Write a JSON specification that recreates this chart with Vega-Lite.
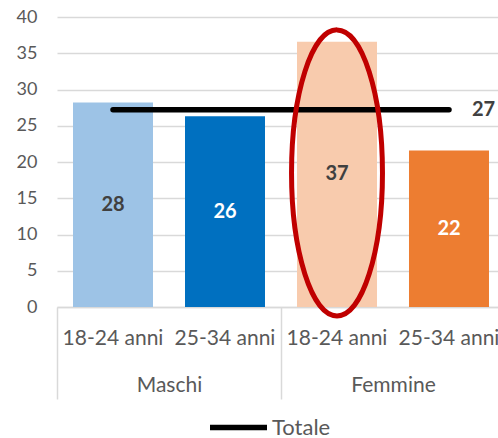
{
  "$schema": "https://vega.github.io/schema/vega-lite/v6.json",
  "width": 441,
  "height": 290,
  "autosize": "none",
  "padding": {"left": 57, "top": 17, "right": 0, "bottom": 131},
  "background": "white",
  "config": {
    "view": {"stroke": null},
    "font": "Lato",
    "axis": {"labelFont": "Lato"},
    "legend": {"labelFont": "Lato"}
  },
  "datasets": {
    "barre": [
      {"categoria": "Maschi|18-24 anni", "gruppo": "Maschi", "eta": "18-24 anni", "valore": 28.2, "totale": 27.2},
      {"categoria": "Maschi|25-34 anni", "gruppo": "Maschi", "eta": "25-34 anni", "valore": 26.3, "totale": 27.2},
      {"categoria": "Femmine|18-24 anni", "gruppo": "Femmine", "eta": "18-24 anni", "valore": 36.6, "totale": 27.2},
      {"categoria": "Femmine|25-34 anni", "gruppo": "Femmine", "eta": "25-34 anni", "valore": 21.6, "totale": 27.2}
    ]
  },
  "data": {"name": "barre"},
  "resolve": {"scale": {"x": "independent", "y": "independent", "color": "independent"}, "axis": {"x": "independent", "y": "independent"}},
  "layer": [
    {
      "mark": {"type": "bar"},
      "encoding": {
        "x": {
          "field": "categoria", "type": "nominal", "sort": null,
          "scale": {"domain": ["Maschi|18-24 anni", "Maschi|25-34 anni", "Femmine|18-24 anni", "Femmine|25-34 anni"], "range": [0, 448], "paddingInner": 0.2857, "paddingOuter": 0.1429},
          "axis": {"title": null, "orient": "bottom", "labelExpr": "split(datum.label, '|')[1]", "labelAngle": 0, "domainColor": "#D9D9D9", "domainWidth": 1.5, "ticks": false, "labelFontSize": 21, "labelColor": "#595959", "labelPadding": 20}
        },
        "y": {
          "field": "valore", "type": "quantitative",
          "scale": {"domain": [0, 40], "nice": false},
          "axis": {"title": null, "values": [0, 5, 10, 15, 20, 25, 30, 35, 40], "grid": true, "gridColor": "#D9D9D9", "gridWidth": 1.5, "domain": false, "ticks": false, "labelFontSize": 18, "labelColor": "#595959", "labelPadding": 20}
        },
        "color": {
          "field": "categoria", "type": "nominal",
          "scale": {"domain": ["Maschi|18-24 anni", "Maschi|25-34 anni", "Femmine|18-24 anni", "Femmine|25-34 anni"], "range": ["#9DC3E6", "#0070C0", "#F8CBAD", "#ED7D31"]},
          "legend": null
        }
      }
    },
    {
      "mark": {"type": "point", "opacity": 0},
      "encoding": {
        "x": {
          "field": "gruppo", "type": "nominal", "sort": null,
          "scale": {"domain": ["Maschi", "Femmine"], "range": [0, 448], "paddingInner": 0, "paddingOuter": 0},
          "axis": {"title": null, "orient": "bottom", "domain": false, "ticks": true, "tickBand": "extent", "tickSize": 92, "tickColor": "#D9D9D9", "tickWidth": 1.5, "labelAngle": 0, "labelFontSize": 21, "labelColor": "#595959", "labelPadding": -25}
        },
        "y": {"field": "valore", "type": "quantitative", "scale": {"domain": [0, 40], "nice": false}, "axis": null}
      }
    },
    {
      "mark": {"type": "text", "fontSize": 20, "fontWeight": "bold", "baseline": "middle"},
      "encoding": {
        "x": {
          "field": "categoria", "type": "nominal", "sort": null,
          "scale": {"domain": ["Maschi|18-24 anni", "Maschi|25-34 anni", "Femmine|18-24 anni", "Femmine|25-34 anni"], "range": [0, 448], "paddingInner": 0.2857, "paddingOuter": 0.1429},
          "axis": null
        },
        "y": {"field": "valore", "type": "quantitative", "scale": {"domain": [0, 80], "nice": false}, "axis": null},
        "text": {"field": "valore", "type": "quantitative", "format": ".0f"},
        "color": {"condition": {"test": "datum.eta === '18-24 anni'", "value": "#404040"}, "value": "#FFFFFF"}
      }
    },
    {
      "mark": {"type": "line", "strokeWidth": 5.5, "strokeCap": "round"},
      "encoding": {
        "x": {
          "field": "categoria", "type": "nominal", "sort": null,
          "scale": {"domain": ["Maschi|18-24 anni", "Maschi|25-34 anni", "Femmine|18-24 anni", "Femmine|25-34 anni"], "range": [0, 448], "paddingInner": 0.2857, "paddingOuter": 0.1429},
          "axis": null
        },
        "y": {"field": "totale", "type": "quantitative", "scale": {"domain": [0, 40], "nice": false}, "axis": null},
        "color": {
          "datum": "Totale",
          "scale": {"range": ["#000000"]},
          "legend": {"title": null, "orient": "none", "legendX": 150, "legendY": 379, "padding": 0, "symbolType": "stroke", "symbolStrokeWidth": 5.5, "symbolSize": 3249, "labelFontSize": 22, "labelColor": "#595959", "labelOffset": 2, "labelBaseline": "middle"}
        }
      }
    },
    {
      "transform": [{"filter": "datum.categoria === 'Femmine|25-34 anni'"}],
      "mark": {"type": "text", "fontSize": 20, "fontWeight": "bold", "align": "left", "baseline": "middle", "dx": 23, "color": "#404040"},
      "encoding": {
        "x": {
          "field": "categoria", "type": "nominal", "sort": null,
          "scale": {"domain": ["Maschi|18-24 anni", "Maschi|25-34 anni", "Femmine|18-24 anni", "Femmine|25-34 anni"], "range": [0, 448], "paddingInner": 0.2857, "paddingOuter": 0.1429},
          "axis": null
        },
        "y": {"field": "totale", "type": "quantitative", "scale": {"domain": [0, 40], "nice": false}, "axis": null},
        "text": {"field": "totale", "type": "quantitative", "format": ".0f"}
      }
    },
    {
      "transform": [{"filter": "datum.categoria === 'Femmine|18-24 anni'"}],
      "mark": {"type": "point", "filled": false, "stroke": "#C00000", "strokeWidth": 5, "opacity": 1, "size": 81796, "shape": "M0,-1 A0.318,1 0 1,1 0,1 A0.318,1 0 1,1 0,-1 Z"},
      "encoding": {
        "x": {
          "field": "categoria", "type": "nominal", "sort": null,
          "scale": {"domain": ["Maschi|18-24 anni", "Maschi|25-34 anni", "Femmine|18-24 anni", "Femmine|25-34 anni"], "range": [0, 448], "paddingInner": 0.2857, "paddingOuter": 0.1429},
          "axis": null
        },
        "y": {"datum": 18.5, "type": "quantitative", "scale": {"domain": [0, 40], "nice": false}, "axis": null}
      }
    }
  ]
}
